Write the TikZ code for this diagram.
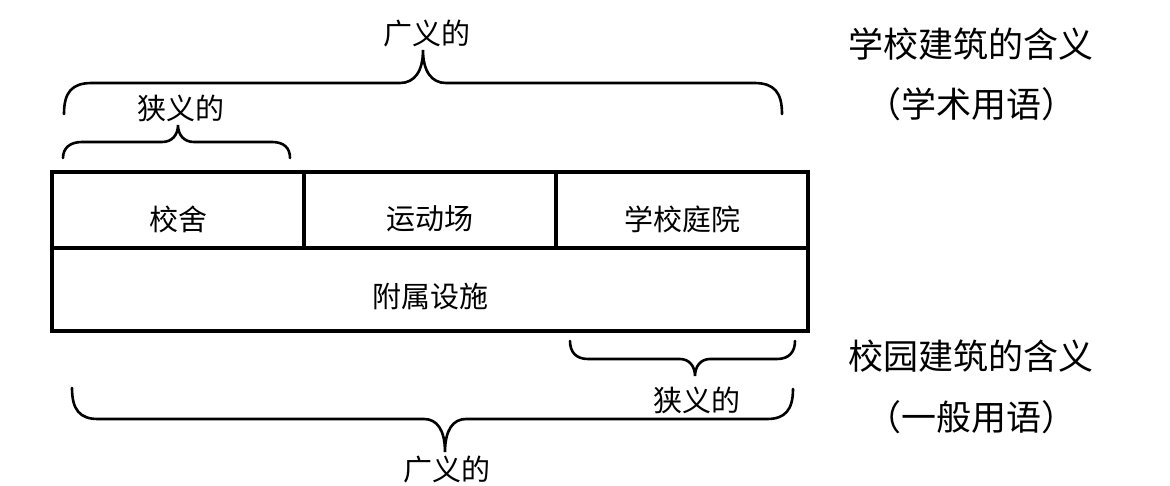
\documentclass[tikz,border=0pt]{standalone}
\usepackage{fontspec}
\setmainfont{Noto Sans CJK SC}
\begin{document}
\begin{tikzpicture}[x=1pt,y=-1pt,
  brace/.style={line width=2.6pt,line cap=round},
  frame/.style={line width=4pt},
  lab/.style={inner sep=0pt,font=\fontsize{29}{32}\selectfont},
  big/.style={inner sep=0pt,font=\fontsize{35}{38}\selectfont}]
\useasboundingbox (0,0) rectangle (1170,486);
% table
\draw[frame] (52,172) rectangle (808,331);
\draw[frame] (52,248) -- (808,248);
\draw[frame] (304,172) -- (304,248);
\draw[frame] (556,172) -- (556,248);
\node[lab] (xs) at (178,219) {校舍};
\node[lab] (ydc) at (430,219) {运动场};
\node[lab] (xxty) at (682,219) {学校庭院};
\node[lab] (fsss) at (430,297) {附属设施};
% top big brace
\draw[brace] (64,114) .. controls (64,92) and (72,83) .. (92,83) -- (400,83)
  .. controls (414,83) and (423,72) .. (423,50)
  .. controls (423,72) and (432,83) .. (446,83) -- (754,83)
  .. controls (774,83) and (782,92) .. (782,114);
\node[lab] (gy1) at (427,34) {广义的};
% top small brace
\draw[brace] (63,158) .. controls (63,148) and (70,142) .. (82,142) -- (162,142)
  .. controls (172,142) and (178,135) .. (178,125)
  .. controls (178,135) and (184,142) .. (194,142) -- (272,142)
  .. controls (284,142) and (290,148) .. (290,158);
\node[lab] (xy1) at (181,108) {狭义的};
% bottom small brace
\draw[brace] (570,341) .. controls (570,352) and (576,359) .. (588,359) -- (680,359)
  .. controls (689,359) and (695,366) .. (695,376)
  .. controls (695,366) and (701,359) .. (710,359) -- (777,359)
  .. controls (789,359) and (795,352) .. (795,341);
\node[lab] (xy2) at (697,400) {狭义的};
% bottom big brace
\draw[brace] (72,388) .. controls (72,410) and (80,419) .. (98,419) -- (424,419)
  .. controls (437,419) and (445,430) .. (445,452)
  .. controls (445,430) and (453,419) .. (466,419) -- (767,419)
  .. controls (785,419) and (793,410) .. (793,389);
\node[lab] (gy2) at (447,470) {广义的};
% right labels
\node[big] (t1) at (971,44) {学校建筑的含义};
\node[big] (t2) at (971,104) {（学术用语）};
\node[big] (t3) at (971,356) {校园建筑的含义};
\node[big] (t4) at (971,417) {（一般用语）};
\end{tikzpicture}
\end{document}
